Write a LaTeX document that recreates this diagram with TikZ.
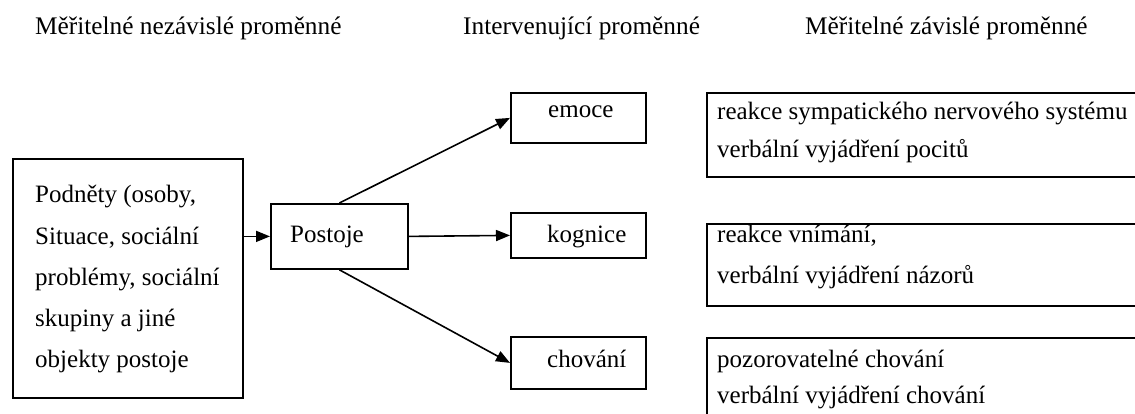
\documentclass[tikz,border=0pt]{standalone}
\usepackage{fontspec}
\setmainfont{Liberation Serif}
\usetikzlibrary{arrows.meta}
\begin{document}
\begin{tikzpicture}[x=1pt,y=-1pt,
  box/.style={draw, line width=1.8pt, inner sep=0pt, anchor=north west},
  txt/.style={anchor=base west, inner sep=0pt, font=\fontsize{25}{30}\selectfont},
  head/.style={anchor=base west, inner sep=0pt, font=\fontsize{25.3}{30}\selectfont},
  link/.style={line width=1.6pt, -{Triangle[length=14pt,width=11pt]}}]
\clip (0,0) rectangle (1135,414);
\fill[white] (0,0) rectangle (1135,414);

% column headings
\node[head] (h1) at (35,35) {Měřitelné nezávislé proměnné};
\node[head] (h2) at (463,35) {Intervenující proměnné};
\node[head] (h3) at (805,35) {Měřitelné závislé proměnné};

% boxes
\node[box, minimum width=230, minimum height=239] (stim) at (12,158) {};
\node[box, minimum width=137, minimum height=65] (att) at (270,203) {};
\node[box, minimum width=135, minimum height=50] (emo) at (510,92) {};
\node[box, minimum width=135, minimum height=45] (kog) at (510,212) {};
\node[box, minimum width=135, minimum height=52] (cho) at (510,336) {};
\node[box, minimum width=500, minimum height=84] (r1) at (706,92) {};
\node[box, minimum width=500, minimum height=82] (r2) at (706,223) {};
\node[box, minimum width=500, minimum height=120] (r3) at (706,337) {};

% texts of the stimulus box
\foreach \t [count=\i from 0] in {{Podněty (osoby,},{Situace, sociální},{problémy, sociální},{skupiny a jiné},{objekty postoje}}
  \node[txt] (s\i) at (35,203+41.2*\i) {\t};

\node[txt] (tatt) at (290,243) {Postoje};
\node[txt] (temo) at (548,118) {emoce};
\node[txt] (tkog) at (547,242) {kognice};
\node[txt] (tcho) at (547,367) {chování};

\node[txt] (a1) at (717,120) {reakce sympatického nervového systému};
\node[txt] (a2) at (717,158) {verbální vyjádření pocitů};
\node[txt] (b1) at (717,243) {reakce vnímání,};
\node[txt] (b2) at (717,283) {verbální vyjádření názorů};
\node[txt] (c1) at (717,367) {pozorovatelné chování};
\node[txt] (c2) at (717,403) {verbální vyjádření chování};

% connectors
\draw[link] (stim.east |- att.west) -- (att.west);
\draw[link] (att.north) -- (emo.west);
\draw[link] (att.east) -- (kog.west);
\draw[link] (att.south) -- (cho.west);
\end{tikzpicture}
\end{document}
